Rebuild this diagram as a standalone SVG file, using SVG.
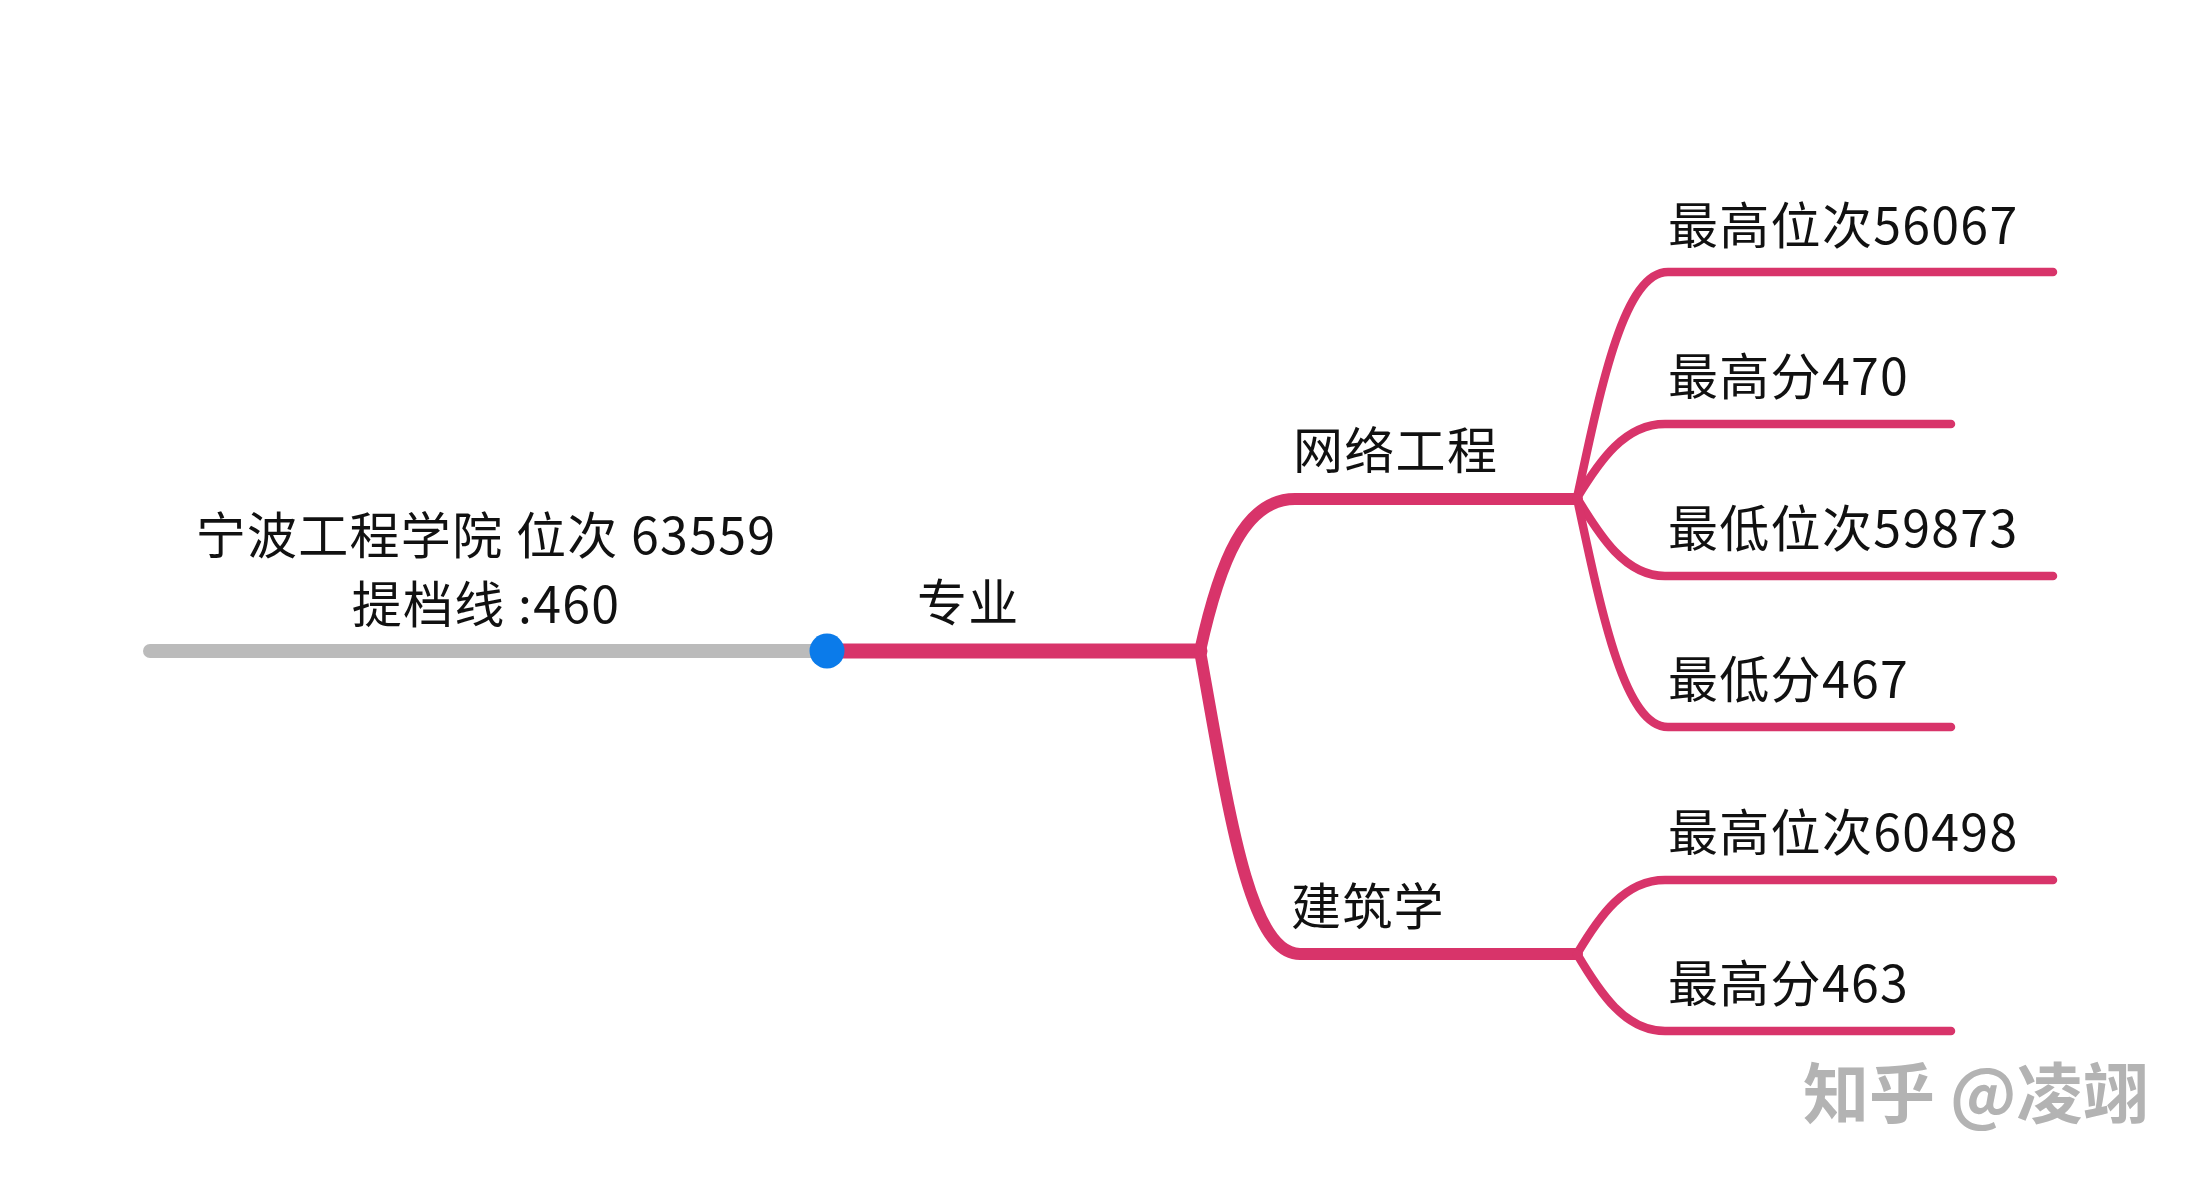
<svg xmlns="http://www.w3.org/2000/svg" width="2205" height="1182" viewBox="0 0 2205 1182">
<style>
.t{font-family:"Noto Sans CJK SC","Noto Sans",sans-serif;font-size:50px;fill:#111;letter-spacing:1.3px}
.c{fill:none;stroke:#D8346A;stroke-linecap:round;stroke-linejoin:round}
.l1{stroke-width:15}
.l2{stroke-width:12}
.l3{stroke-width:8.5}
.wm{font-family:"Noto Sans CJK SC",sans-serif;font-size:66px;font-weight:bold;fill:#b3b3b3}
</style>
<rect width="2205" height="1182" fill="#fff"/>
<g id="connectors">
<line x1="150" y1="651" x2="827" y2="651" stroke="#BBBBBB" stroke-width="14" stroke-linecap="round"/>
<path class="c l1" d="M827,651 L1200,651"/>
<path class="c l2" d="M1200,651 C1220,560 1245,499 1295,499 L1577,499"/>
<path class="c l2" d="M1200,651 C1230,820 1250,954 1300,954 L1577,954"/>
<path class="c l3" d="M1577,498 C1602,380 1625,272 1668,272 L2053,272"/>
<path class="c l3" d="M1577,498 C1600,460 1625,424 1665,424 L1951,424"/>
<path class="c l3" d="M1577,498 C1600,536 1625,576 1665,576 L2053,576"/>
<path class="c l3" d="M1577,498 C1602,616 1625,727 1668,727 L1951,727"/>
<path class="c l3" d="M1577,954 C1600,915 1625,880 1665,880 L2053,880"/>
<path class="c l3" d="M1577,954 C1600,993 1625,1031 1665,1031 L1951,1031"/>
</g>
<g id="root">
<circle cx="827" cy="651" r="17.5" fill="#0B7BEA"/>
<text class="t" x="486" y="554" text-anchor="middle">宁波工程学院 位次 63559</text>
<text class="t" x="486" y="623" text-anchor="middle">提档线 :460</text>
</g>
<g id="major"><text class="t" x="917" y="621">专业</text></g>
<g id="network"><text class="t" x="1293" y="469">网络工程</text></g>
<g id="arch"><text class="t" x="1291" y="925">建筑学</text></g>
<g id="n1"><text class="t" x="1668" y="244">最高位次56067</text></g>
<g id="n2"><text class="t" x="1668" y="395">最高分470</text></g>
<g id="n3"><text class="t" x="1668" y="547">最低位次59873</text></g>
<g id="n4"><text class="t" x="1668" y="698">最低分467</text></g>
<g id="n5"><text class="t" x="1668" y="851">最高位次60498</text></g>
<g id="n6"><text class="t" x="1668" y="1002">最高分463</text></g>
<text class="wm" x="1803" y="1118">知乎 @凌翊</text>
</svg>
